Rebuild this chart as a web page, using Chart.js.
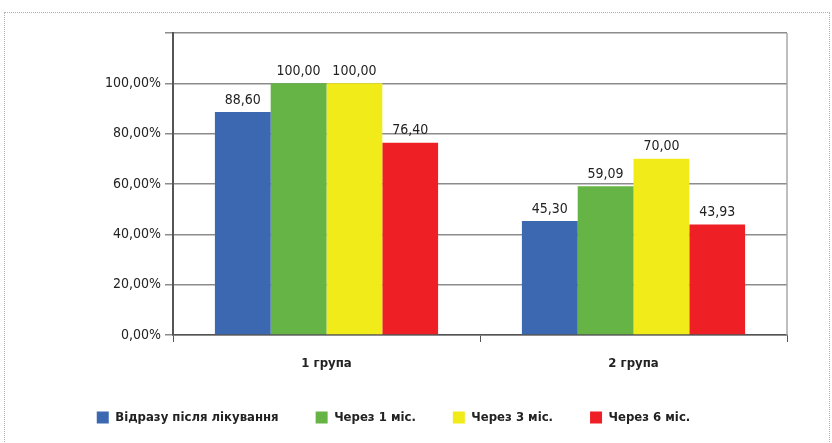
<!DOCTYPE html>
<html>
<head>
<meta charset="utf-8">
<script src="https://cdn.jsdelivr.net/npm/chart.js@4"></script>
<style>
  body { margin: 0; background: #fff; }
  #wrap { position: relative; width: 832px; height: 443px; }
  #frame { position: absolute; left: 4px; top: 12px; width: 824px; height: 440px; border: 1px dotted #b0b0b0; pointer-events: none; }
</style>
</head>
<body>
<div id="wrap">
  <canvas id="grafica" width="832" height="443"></canvas>
  <div id="frame"></div>
</div>
<script>
const categorias = ['1 група', '2 група'];
const series = ['Відразу після лікування', 'Через 1 міс.', 'Через 3 міс.', 'Через 6 міс.'];
const valores = [
  [88.60, 45.30],
  [100.00, 59.09],
  [100.00, 70.00],
  [76.40, 43.93]
];
const colores = ['#3c67b1', '#66b445', '#f2eb1a', '#ee1f25'];
const ticksY = [0, 20, 40, 60, 80, 100];

const fuente = "'DejaVu Sans Condensed', 'Roboto', sans-serif";
const coma = v => v.toFixed(2).replace('.', ',');

// etiquetas encima de cada barra + borde derecho del area
const etiquetas = {
  id: 'etiquetas',
  afterDatasetsDraw(chart) {
    const ctx = chart.ctx;
    ctx.save();
    ctx.font = '14px ' + fuente;
    ctx.fillStyle = '#222';
    ctx.textAlign = 'center';
    ctx.textBaseline = 'bottom';
    chart.data.datasets.forEach((ds, i) => {
      chart.getDatasetMeta(i).data.forEach((bar, j) => {
        ctx.fillText(coma(ds.data[j]), bar.x, bar.y - 5);
      });
    });
    const a = chart.chartArea;
    ctx.strokeStyle = '#a8a8a8';
    ctx.lineWidth = 1.5;
    ctx.beginPath();
    ctx.moveTo(a.right, a.top);
    ctx.lineTo(a.right, a.bottom);
    ctx.stroke();
    ctx.restore();
  }
};

new Chart(document.getElementById('grafica').getContext('2d'), {
  type: 'bar',
  data: {
    labels: categorias,
    datasets: series.map((s, i) => ({
      label: s,
      data: valores[i],
      backgroundColor: colores[i],
      borderWidth: 0,
      barPercentage: 1,
      categoryPercentage: 0.727
    }))
  },
  options: {
    responsive: false,
    animation: false,
    layout: { padding: { top: 33, right: 45, left: 0, bottom: 9 } },
    plugins: {
      tooltip: { enabled: false },
      legend: {
        position: 'bottom',
        labels: {
          boxWidth: 12,
          boxHeight: 12,
          padding: 37,
          color: '#222',
          font: { family: fuente, size: 13, weight: 'bold' }
        }
      }
    },
    scales: {
      x: {
        grid: { drawOnChartArea: false, offset: true, tickLength: 7, color: '#555', lineWidth: 1 },
        border: { color: '#555', width: 1.5 },
        ticks: { color: '#222', padding: 14, font: { family: fuente, size: 13, weight: 'bold' } },
        afterFit: s => { s.height = 39; }
      },
      y: {
        min: 0,
        max: 120,
        grid: { color: '#8c8c8c', lineWidth: 1.5, tickLength: 8 },
        border: { color: '#555', width: 2 },
        ticks: {
          stepSize: 20,
          color: '#222',
          padding: 4,
          font: { family: fuente, size: 14 },
          callback: v => ticksY.includes(v) ? coma(v) + '%' : ''
        },
        afterFit: s => { s.width = 173; }
      }
    }
  },
  plugins: [etiquetas]
});
</script>
</body>
</html>
